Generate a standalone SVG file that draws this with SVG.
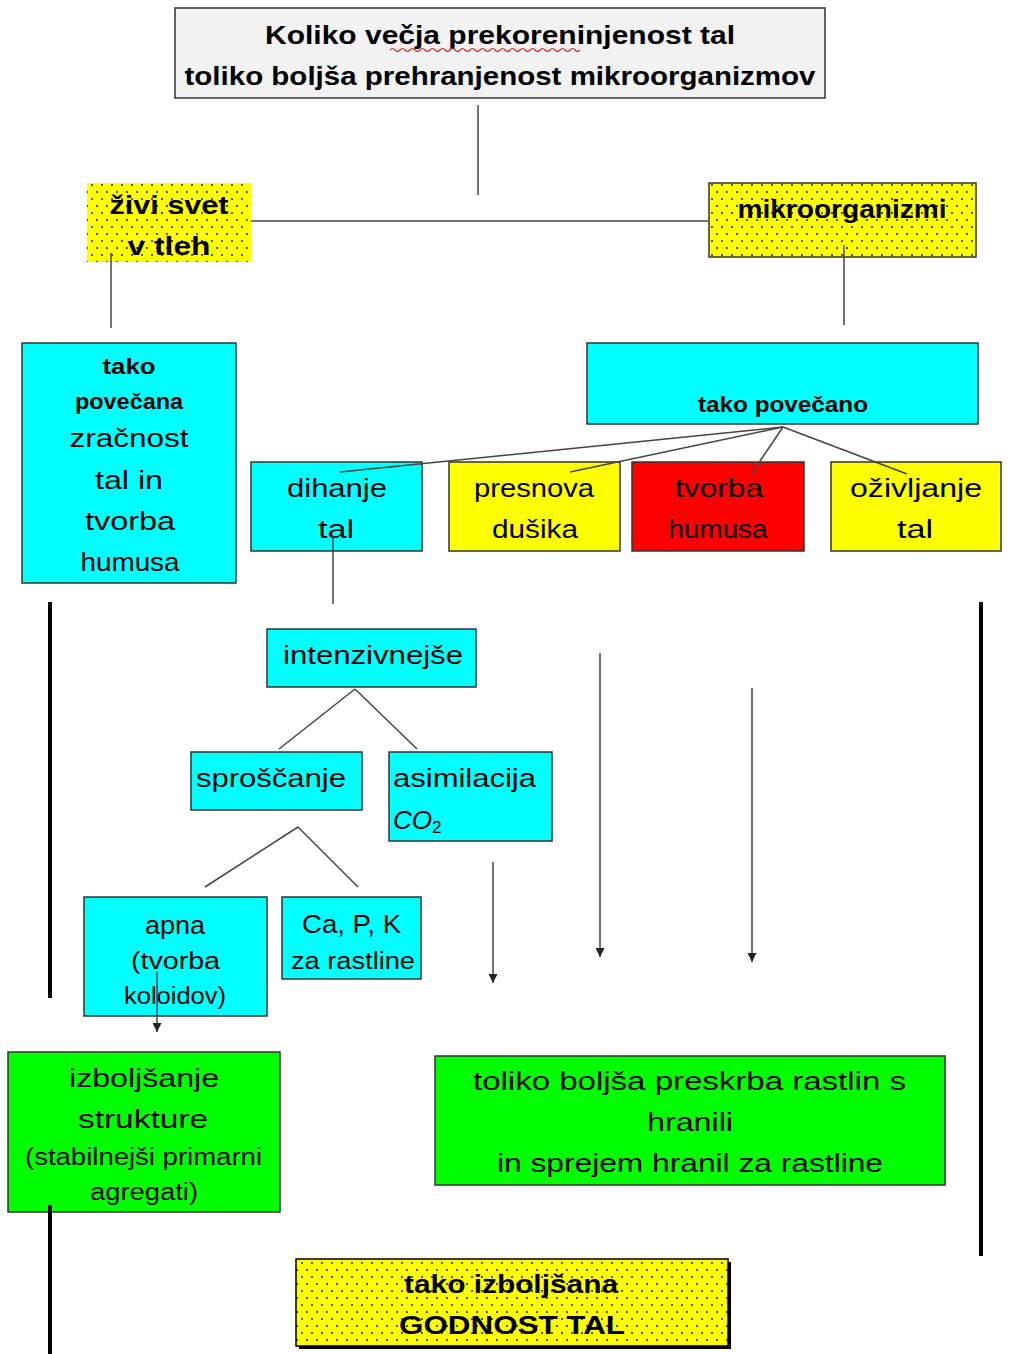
<svg xmlns="http://www.w3.org/2000/svg" width="1009" height="1354" viewBox="0 0 1009 1354">
<style>
text{font-family:"Liberation Sans","DejaVu Sans",sans-serif;fill:#000;text-anchor:middle}
.n{font-size:26px}
.b{font-size:25px;font-weight:bold}
.s{font-size:23px}
.box{stroke:#333;stroke-width:1.5}
.cy{fill:#00ffff}.ye{fill:#ffff00}.re{fill:#ff0000}.gr{fill:#00ff00}
.ln{stroke:#444;stroke-width:1.5;fill:none}
.thick{stroke:#000;stroke-width:4;fill:none}
</style>
<defs>
<pattern id="dots" width="10" height="14" patternUnits="userSpaceOnUse">
<rect width="10" height="14" fill="#ffff00"/>
<circle cx="2" cy="3" r="0.9" fill="#000"/>
<circle cx="7" cy="10" r="0.9" fill="#000"/>
</pattern>
<marker id="arr" viewBox="0 0 10 10" refX="10" refY="5" markerWidth="9" markerHeight="9" markerUnits="userSpaceOnUse" orient="auto">
<path d="M0,0 L10,5 L0,10 Z" fill="#222"/>
</marker>
</defs>

<g id="title">
<rect class="box" x="175" y="8" width="650" height="90" fill="#f2f2f2"/>
<text class="b" x="500" y="44" textLength="470" lengthAdjust="spacingAndGlyphs">Koliko večja prekoreninjenost tal</text>
<path d="M390,50 q2.5,-3 5,0 t5,0 t5,0 t5,0 t5,0 t5,0 t5,0 t5,0 t5,0 t5,0 t5,0 t5,0 t5,0 t5,0 t5,0 t5,0 t5,0 t5,0 t5,0 t5,0 t5,0 t5,0 t5,0 t5,0 t5,0 t5,0 t5,0 t5,0 t5,0 t5,0 t5,0 t5,0 t5,0 t5,0 t5,0 t5,0 t5,0 t5,0" fill="none" stroke="#e02020" stroke-width="1.2"/>
<text class="b" x="500" y="85" textLength="631" lengthAdjust="spacingAndGlyphs">toliko boljša prehranjenost mikroorganizmov</text>
</g>

<g id="zivi-svet">
<rect x="87" y="183" width="164" height="79" fill="url(#dots)"/>
<text class="b" x="169" y="214" textLength="119" lengthAdjust="spacingAndGlyphs">živi svet</text>
<text class="b" x="169" y="255" textLength="83" lengthAdjust="spacingAndGlyphs">v tleh</text>
</g>

<g id="mikroorganizmi">
<rect class="box" x="709" y="183" width="267" height="74" fill="url(#dots)"/>
<text class="b" x="842" y="218" textLength="209" lengthAdjust="spacingAndGlyphs">mikroorganizmi</text>
</g>

<g id="tako-povecana">
<rect class="box cy" x="22" y="343" width="214" height="240"/>
<text class="b" x="129" y="374" style="font-size:22px" textLength="53" lengthAdjust="spacingAndGlyphs">tako</text>
<text class="b" x="129" y="409" style="font-size:22px" textLength="108" lengthAdjust="spacingAndGlyphs">povečana</text>
<text class="n" x="129" y="447" textLength="119" lengthAdjust="spacingAndGlyphs">zračnost</text>
<text class="n" x="129" y="489" textLength="68" lengthAdjust="spacingAndGlyphs">tal in</text>
<text class="n" x="130" y="530" textLength="90" lengthAdjust="spacingAndGlyphs">tvorba</text>
<text class="n" x="130" y="571" textLength="99" lengthAdjust="spacingAndGlyphs">humusa</text>
</g>

<g id="tako-povecano">
<rect class="box cy" x="587" y="343" width="391" height="81"/>
<text class="b" x="783" y="412" style="font-size:22px" textLength="170" lengthAdjust="spacingAndGlyphs">tako povečano</text>
</g>

<g id="dihanje">
<rect class="box cy" x="251" y="462" width="171" height="89"/>
<text class="n" x="337" y="497" textLength="100" lengthAdjust="spacingAndGlyphs">dihanje</text>
<text class="n" x="336" y="538" textLength="36" lengthAdjust="spacingAndGlyphs">tal</text>
</g>

<g id="presnova">
<rect class="box ye" x="449" y="462" width="171" height="89"/>
<text class="n" x="534" y="497" textLength="120" lengthAdjust="spacingAndGlyphs">presnova</text>
<text class="n" x="535" y="538" textLength="86" lengthAdjust="spacingAndGlyphs">dušika</text>
</g>

<g id="tvorba-humusa">
<rect class="box re" x="632" y="462" width="172" height="89"/>
<text class="n" x="719" y="497" textLength="88" lengthAdjust="spacingAndGlyphs">tvorba</text>
<text class="n" x="718" y="538" textLength="99" lengthAdjust="spacingAndGlyphs">humusa</text>
</g>

<g id="ozivljanje">
<rect class="box ye" x="831" y="462" width="170" height="89"/>
<text class="n" x="916" y="497" textLength="132" lengthAdjust="spacingAndGlyphs">oživljanje</text>
<text class="n" x="915" y="538" textLength="36" lengthAdjust="spacingAndGlyphs">tal</text>
</g>

<g id="intenzivnejse">
<rect class="box cy" x="267" y="629" width="209" height="58"/>
<text class="n" x="373" y="664" textLength="180" lengthAdjust="spacingAndGlyphs">intenzivnejše</text>
</g>

<g id="sproscanje">
<rect class="box cy" x="191" y="752" width="171" height="58"/>
<text class="n" x="271" y="787" textLength="150" lengthAdjust="spacingAndGlyphs">sproščanje</text>
</g>

<g id="asimilacija">
<rect class="box cy" x="389" y="752" width="163" height="89"/>
<text class="n" x="464.5" y="787" textLength="143" lengthAdjust="spacingAndGlyphs">asimilacija</text>
<text class="n" x="393" y="829" style="text-anchor:start;font-style:italic">CO<tspan style="font-size:17px;font-style:normal" dy="4">2</tspan></text>
</g>

<g id="apna">
<rect class="box cy" x="84" y="897" width="183" height="119"/>
<text class="n" x="175" y="934" textLength="60" lengthAdjust="spacingAndGlyphs">apna</text>
<text class="s" x="175.5" y="969" textLength="89" lengthAdjust="spacingAndGlyphs">(tvorba</text>
<text class="s" x="175" y="1004" textLength="102" lengthAdjust="spacingAndGlyphs">koloidov)</text>
</g>

<g id="capk">
<rect class="box cy" x="282" y="897" width="139" height="82"/>
<text class="n" x="351.5" y="933" textLength="99" lengthAdjust="spacingAndGlyphs">Ca, P, K</text>
<text class="s" x="353" y="969" textLength="124" lengthAdjust="spacingAndGlyphs">za rastline</text>
</g>

<g id="izboljsanje-strukture">
<rect class="box gr" x="8" y="1052" width="272" height="160"/>
<text class="n" x="144" y="1087" textLength="150" lengthAdjust="spacingAndGlyphs">izboljšanje</text>
<text class="n" x="143" y="1128" textLength="130" lengthAdjust="spacingAndGlyphs">strukture</text>
<text class="s" x="143.5" y="1165" textLength="237" lengthAdjust="spacingAndGlyphs">(stabilnejši primarni</text>
<text class="s" x="144" y="1200" textLength="108" lengthAdjust="spacingAndGlyphs">agregati)</text>
</g>

<g id="preskrba">
<rect class="box gr" x="435" y="1056" width="510" height="129"/>
<text class="n" x="689.5" y="1090" textLength="433" lengthAdjust="spacingAndGlyphs">toliko boljša  preskrba rastlin s</text>
<text class="n" x="690" y="1131" textLength="86" lengthAdjust="spacingAndGlyphs">hranili</text>
<text class="n" x="690" y="1172" textLength="386" lengthAdjust="spacingAndGlyphs">in sprejem hranil za rastline</text>
</g>

<g id="godnost">
<rect x="299" y="1262" width="432" height="87" fill="#000"/>
<rect class="box" x="296" y="1259" width="432" height="87" fill="url(#dots)" style="stroke:#000"/>
<text class="b" x="511" y="1293" textLength="214" lengthAdjust="spacingAndGlyphs">tako izboljšana</text>
<text class="b" x="512" y="1334" textLength="226" lengthAdjust="spacingAndGlyphs">GODNOST TAL</text>
</g>

<g id="connectors">
<line class="ln" x1="478" y1="105" x2="478" y2="195"/>
<line class="ln" x1="251" y1="221" x2="708" y2="221"/>
<line class="ln" x1="111" y1="253" x2="111" y2="328"/>
<line class="ln" x1="844" y1="245" x2="844" y2="325"/>
<line class="ln" x1="783" y1="427" x2="340" y2="472"/>
<line class="ln" x1="783" y1="427" x2="570" y2="472"/>
<line class="ln" x1="783" y1="427" x2="752" y2="473"/>
<line class="ln" x1="783" y1="427" x2="907" y2="474"/>
<line class="ln" x1="333" y1="536" x2="333" y2="604"/>
<line class="ln" x1="355" y1="689" x2="279" y2="749"/>
<line class="ln" x1="355" y1="689" x2="417" y2="749"/>
<line class="ln" x1="298" y1="827" x2="205" y2="887"/>
<line class="ln" x1="298" y1="827" x2="358" y2="887"/>
<line class="ln" x1="157" y1="972" x2="157" y2="1032" marker-end="url(#arr)"/>
<line class="ln" x1="493" y1="862" x2="493" y2="983" marker-end="url(#arr)"/>
<line class="ln" x1="600" y1="653" x2="600" y2="957" marker-end="url(#arr)"/>
<line class="ln" x1="752" y1="688" x2="752" y2="962" marker-end="url(#arr)"/>
<line class="thick" x1="50" y1="602" x2="50" y2="998"/>
<line class="thick" x1="981" y1="602" x2="981" y2="1256"/>
<line class="thick" x1="50" y1="1205" x2="50" y2="1354"/>
</g>
</svg>
